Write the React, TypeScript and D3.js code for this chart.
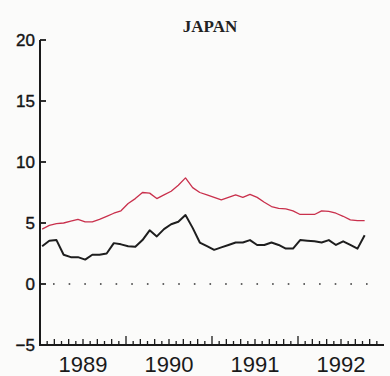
import React from "react";
import * as d3 from "d3";

const title = "JAPAN";
const startYear = 1989;
const years = [1989, 1990, 1991, 1992];
const yTicks = [-5, 0, 5, 10, 15, 20];

// monthly values, Jan 1989 .. Oct 1992
const redSeries = [
  4.5, 4.8, 4.95, 5.0, 5.15, 5.3, 5.1, 5.1, 5.3, 5.55, 5.8, 6.0,
  6.6, 7.0, 7.5, 7.45, 7.0, 7.3, 7.6, 8.1, 8.7, 7.9, 7.5, 7.3,
  7.1, 6.9, 7.1, 7.3, 7.1, 7.35, 7.1, 6.7, 6.35, 6.2, 6.15, 6.0,
  5.7, 5.7, 5.7, 6.0, 5.95, 5.8, 5.55, 5.25, 5.2, 5.2,
];
const blackSeries = [
  3.1, 3.55, 3.6, 2.4, 2.2, 2.2, 2.0, 2.4, 2.4, 2.5, 3.35, 3.25,
  3.1, 3.05, 3.6, 4.4, 3.9, 4.5, 4.9, 5.1, 5.65, 4.6, 3.4, 3.1,
  2.8, 3.0, 3.2, 3.4, 3.4, 3.6, 3.2, 3.2, 3.4, 3.2, 2.9, 2.9,
  3.6, 3.55, 3.5, 3.4, 3.6, 3.2, 3.5, 3.2, 2.9, 4.0,
];

const W = 390;
const H = 376;
const x = d3.scaleLinear().domain([1989, 1993]).range([40, 384]);
const y = d3.scaleLinear().domain([-5, 20]).range([345, 40]);

const tOf = (i: number) => startYear + (i + 0.3) / 12;

export default function App() {
  const line = d3
    .line<number>()
    .x((_, i) => x(tOf(i)))
    .y((d) => y(d));

  const monthTicks = d3.range(1, 48);
  const sans = "'Liberation Sans', Arial, sans-serif";

  return (
    <svg
      width={W}
      height={H}
      style={{ position: "absolute", left: 0, top: 0, background: "#fbfbfa" }}
    >
      <rect x={0} y={0} width={W} height={H} fill="#fbfbfa" />
      <text
        x={210}
        y={32}
        textAnchor="middle"
        fontFamily="'Liberation Serif', 'DejaVu Serif', serif"
        fontWeight="bold"
        fontSize={17}
        fill="#222"
      >
        {title}
      </text>

      {/* zero dotted line */}
      <line
        x1={53}
        x2={370}
        y1={y(0)}
        y2={y(0)}
        stroke="#333"
        strokeWidth={1.6}
        strokeDasharray="1.6 14.05"
      />

      {/* series */}
      <path d={line(redSeries) || ""} fill="none" stroke="#c9304c" strokeWidth={1.3} strokeLinejoin="round" />
      <path d={line(blackSeries) || ""} fill="none" stroke="#1e1e1e" strokeWidth={2} strokeLinejoin="round" />

      {/* y axis */}
      <line x1={40} x2={40} y1={y(20)} y2={y(-5) + 1} stroke="#1a1a1a" strokeWidth={2} />
      {yTicks.map((t) => (
        <g key={t}>
          <line x1={40} x2={46} y1={y(t)} y2={y(t)} stroke="#1a1a1a" strokeWidth={1.8} />
          <text
            x={35}
            y={y(t) + 6}
            textAnchor="end"
            fontFamily={sans}
            fontSize={17}
            fill="#151515"
            stroke="#151515"
            strokeWidth={0.4}
          >
            {t < 0 ? "\u2212" + Math.abs(t) : t}
          </text>
        </g>
      ))}

      {/* x axis */}
      <line x1={39} x2={384} y1={y(-5)} y2={y(-5)} stroke="#1a1a1a" strokeWidth={2} />
      {monthTicks.map((m) => {
        const len = m % 12 === 0 ? 9 : m % 2 === 0 ? 6 : 4;
        const xx = x(startYear + m / 12);
        return (
          <line key={m} x1={xx} x2={xx} y1={y(-5)} y2={y(-5) - len} stroke="#1a1a1a" strokeWidth={1.3} />
        );
      })}
      {years.map((yr) => (
        <text
          key={yr}
          x={x(yr + 0.5)}
          y={372}
          textAnchor="middle"
          fontFamily={sans}
          fontSize={22}
          fill="#1a1a1a"
        >
          {yr}
        </text>
      ))}
    </svg>
  );
}
